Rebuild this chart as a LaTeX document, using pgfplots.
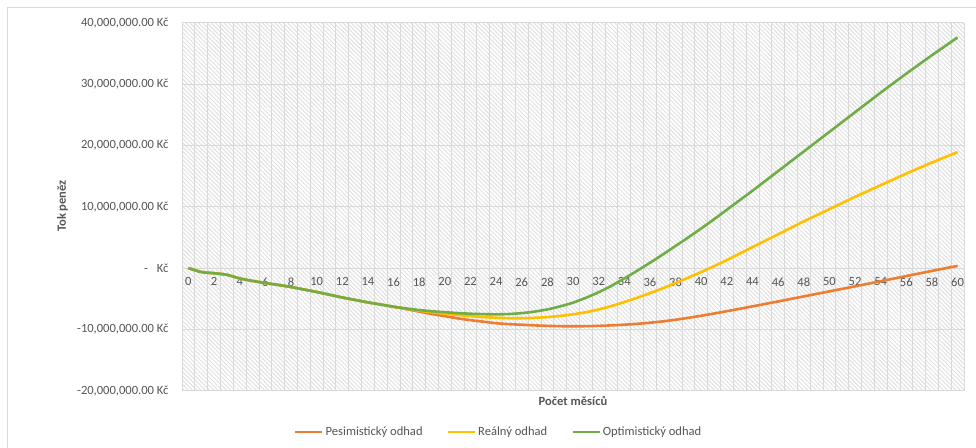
\documentclass[border=0pt]{standalone}
\usepackage{pgfplots}
\pgfplotsset{compat=1.18}
\usepackage{pgfplotstable}
\usepackage{fontspec}
\setmainfont{Carlito}
\usetikzlibrary{patterns.meta}

\definecolor{pesim}{HTML}{ED7D31}
\definecolor{realn}{HTML}{FFC000}
\definecolor{optim}{HTML}{70AD47}
\definecolor{gridgray}{HTML}{D9D9D9}
\definecolor{hatchgray}{HTML}{E0E0E0}
\definecolor{textgray}{HTML}{555555}
\definecolor{bordergray}{HTML}{D9D9D9}

\newcommand{\chartfont}{\fontsize{12.6}{15}\selectfont}

% Cash flow per month, in millions of CZK
\pgfplotstableread{
m  pes    real   opt
0  0      0      0
1  -0.65  -0.65  -0.65
2  -0.85  -0.85  -0.85
3  -1.1   -1.1   -1.1
4  -1.7   -1.7   -1.7
5  -2.1   -2.1   -2.1
6  -2.45  -2.45  -2.45
7  -2.75  -2.75  -2.75
8  -3.1   -3.1   -3.1
9  -3.5   -3.5   -3.5
10 -3.9   -3.9   -3.9
11 -4.35  -4.35  -4.35
12 -4.8   -4.8   -4.8
13 -5.2   -5.2   -5.2
14 -5.6   -5.6   -5.6
15 -5.95  -5.95  -5.95
16 -6.35  -6.3   -6.3
17 -6.7   -6.62  -6.6
18 -7.1   -6.95  -6.85
19 -7.5   -7.2   -7.05
20 -7.85  -7.45  -7.2
21 -8.2   -7.65  -7.35
22 -8.5   -7.85  -7.45
23 -8.75  -8.0   -7.52
24 -9.0   -8.1   -7.55
25 -9.15  -8.18  -7.5
26 -9.25  -8.18  -7.35
27 -9.35  -8.12  -7.1
28 -9.43  -8.0   -6.75
29 -9.48  -7.8   -6.25
30 -9.5   -7.55  -5.65
31 -9.48  -7.2   -4.85
32 -9.43  -6.75  -3.95
33 -9.35  -6.2   -2.9
34 -9.24  -5.55  -1.7
35 -9.1   -4.85  -0.45
36 -8.92  -4.1   0.85
37 -8.7   -3.3   2.2
38 -8.43  -2.45  3.6
39 -8.12  -1.55  5.0
40 -7.78  -0.65  6.45
41 -7.42  0.3    7.95
42 -7.04  1.3    9.5
43 -6.65  2.35   11.05
44 -6.25  3.4    12.6
45 -5.85  4.45   14.2
46 -5.45  5.5    15.8
47 -5.04  6.55   17.4
48 -4.63  7.6    19.0
49 -4.22  8.6    20.6
50 -3.81  9.6    22.2
51 -3.4   10.6   23.8
52 -2.99  11.6   25.4
53 -2.57  12.55  27.0
54 -2.15  13.5   28.6
55 -1.73  14.45  30.15
56 -1.31  15.4   31.7
57 -0.89  16.3   33.2
58 -0.47  17.2   34.7
59 -0.06  18.05  36.15
60 0.35   18.9   37.6
}\cashflow

\begin{document}
\begin{tikzpicture}[x=1bp,y=1bp]
\useasboundingbox (0,0) rectangle (976,448);
% chart area frame
\draw[color=bordergray, line width=1bp] (7,0) -- (7,440) -- (976,440);
\begin{axis}[
  at={(182bp,57.3bp)}, anchor=south west,
  scale only axis, width=782bp, height=368bp,
  xmin=-0.5, xmax=60.5, ymin=-20, ymax=40,
  axis x line*=middle, axis y line*=left,
  axis line style={draw=none},
  hide obscured x ticks=false, hide obscured y ticks=false,
  axis background/.style={pattern={Lines[angle=-45,distance=3bp,line width=1bp]}, pattern color=hatchgray},
  xtick={0,2,...,60},
  minor xtick={-0.5,0.5,...,60.5},
  xminorgrids, xmajorgrids=false,
  ytick={-20,-10,0,10,20,30,40},
  yticklabels={{-20,000,000.00 Kč},{-10,000,000.00 Kč},{-\hspace{9bp}Kč},{10,000,000.00 Kč},{20,000,000.00 Kč},{30,000,000.00 Kč},{40,000,000.00 Kč}},
  ymajorgrids,
  major tick length=0pt, minor tick length=0pt,
  major grid style={color=gridgray, line width=0.8bp},
  minor grid style={color=gridgray, line width=0.8bp},
  /pgf/number format/assume math mode=true,
  tick label style={font=\chartfont, text=textgray},
  x tick label style={yshift=-6bp},
  y tick label style={xshift=-10bp},
  legend style={at={(axis description cs:0.405,-0.112)}, anchor=center,
    draw=none, fill=none, legend columns=3,
    font=\chartfont, text=textgray,
    /tikz/every even column/.append style={column sep=22bp}},
  legend image code/.code={\draw[#1] (0bp,0bp) -- (27bp,0bp);},
  every axis plot/.append style={line width=2.6bp, smooth, no markers},
]
\addplot[pesim] table[x=m, y=pes] {\cashflow};
\addlegendentry{Pesimistický odhad}
\addplot[realn] table[x=m, y=real] {\cashflow};
\addlegendentry{Reálný odhad}
\addplot[optim] table[x=m, y=opt] {\cashflow};
\addlegendentry{Optimistický odhad}
\end{axis}
\node[rotate=90, font=\bfseries\chartfont, text=textgray] at (62.5,242) {Tok peněz};
\node[font=\bfseries\chartfont, text=textgray] at (573,47) {Počet měsíců};
\end{tikzpicture}
\end{document}
